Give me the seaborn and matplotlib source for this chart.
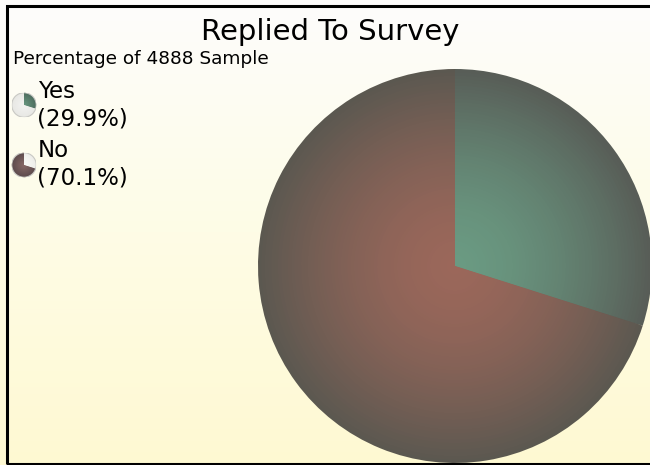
import numpy as np
import seaborn as sns
import matplotlib.pyplot as plt
from matplotlib.patches import Rectangle

# data
labels = ["Yes", "No"]
pcts = [29.9, 70.1]
n_sample = 4888
title = "Replied To Survey"

# colours (centre -> rim)
yes_centre, yes_rim = "#6a9a82", "#585d57"
no_centre, no_rim = "#9b675a", "#5b5850"

fig = plt.figure(figsize=(6.5, 4.65), dpi=100)

# background gradient
bg = fig.add_axes([0, 0, 1, 1], zorder=-5)
grad = np.linspace(0, 1, 256).reshape(-1, 1)
bg_cmap = sns.blend_palette(["#fdfdfc", "#fefce6", "#fff9d2"], as_cmap=True)
bg.imshow(grad, aspect="auto", cmap=bg_cmap, extent=[0, 1, 0, 1], origin="upper")
bg.set_axis_off()


def shaded_pie(ax, cols_centre, cols_rim, n=60, power=1.6, edge=None):
    radii = np.linspace(1, 0.01, n)
    pals = [sns.blend_palette([c0, c1], n_colors=201) for c0, c1 in zip(cols_centre, cols_rim)]
    for r in radii:
        k = int(round((r ** power) * 200))
        cols = [p[k] for p in pals]
        ax.pie(pcts, radius=r, colors=cols, startangle=90, counterclock=False,
               wedgeprops=dict(linewidth=0, antialiased=True))
    if edge is not None:
        ax.add_patch(plt.Circle((0, 0), 1, fill=False, ec=edge, lw=0.8))
    ax.set_xlim(-1.02, 1.02)
    ax.set_ylim(-1.02, 1.02)
    ax.set_aspect("equal")
    ax.set_axis_off()


# main pie
W, H = 650, 465
cx, cy, R = 455, 266, 197
ax = fig.add_axes([(cx - R * 1.02) / W, (H - cy - R * 1.02) / H, 2 * R * 1.02 / W, 2 * R * 1.02 / H])
shaded_pie(ax, [yes_centre, no_centre], [yes_rim, no_rim])

# legend icons
icon_y = [105, 165]
icon_cols = [([yes_centre, "#f4f4f2"], ["#4e6e60", "#e8e8e4"]),
             (["#fbfbf8", "#8a6a68"], ["#eeeeea", "#5e4c4e"])]
for (c0, c1), iy in zip(icon_cols, icon_y):
    r = 12.5
    iax = fig.add_axes([(24 - r) / W, (H - iy - r) / H, 2 * r / W, 2 * r / H])
    shaded_pie(iax, c0, c1, n=12, power=1.0, edge="#c8c8c4")

# legend labels
for lab, p, base in zip(labels, pcts, [98, 157]):
    fig.text(38 / W, 1 - base / H, lab, fontsize=16.5, va="baseline", ha="left")
    fig.text(37 / W, 1 - (base + 27) / H, f"({p:.1f}%)", fontsize=16.5, va="baseline", ha="left")

fig.text(330 / W, 1 - 40 / H, title, fontsize=21, ha="center", va="baseline")
fig.text(13 / W, 1 - 64 / H, f"Percentage of {n_sample} Sample", fontsize=13.3, ha="left", va="baseline")

# frame (right edge falls outside the picture)
fig.patches.append(Rectangle((6.5 / W, 1.5 / H), (W + 10) / W, (H - 8) / H, transform=fig.transFigure,
                             fill=False, ec="black", lw=2.2, zorder=10))

fig.savefig("out.png", dpi=100)
